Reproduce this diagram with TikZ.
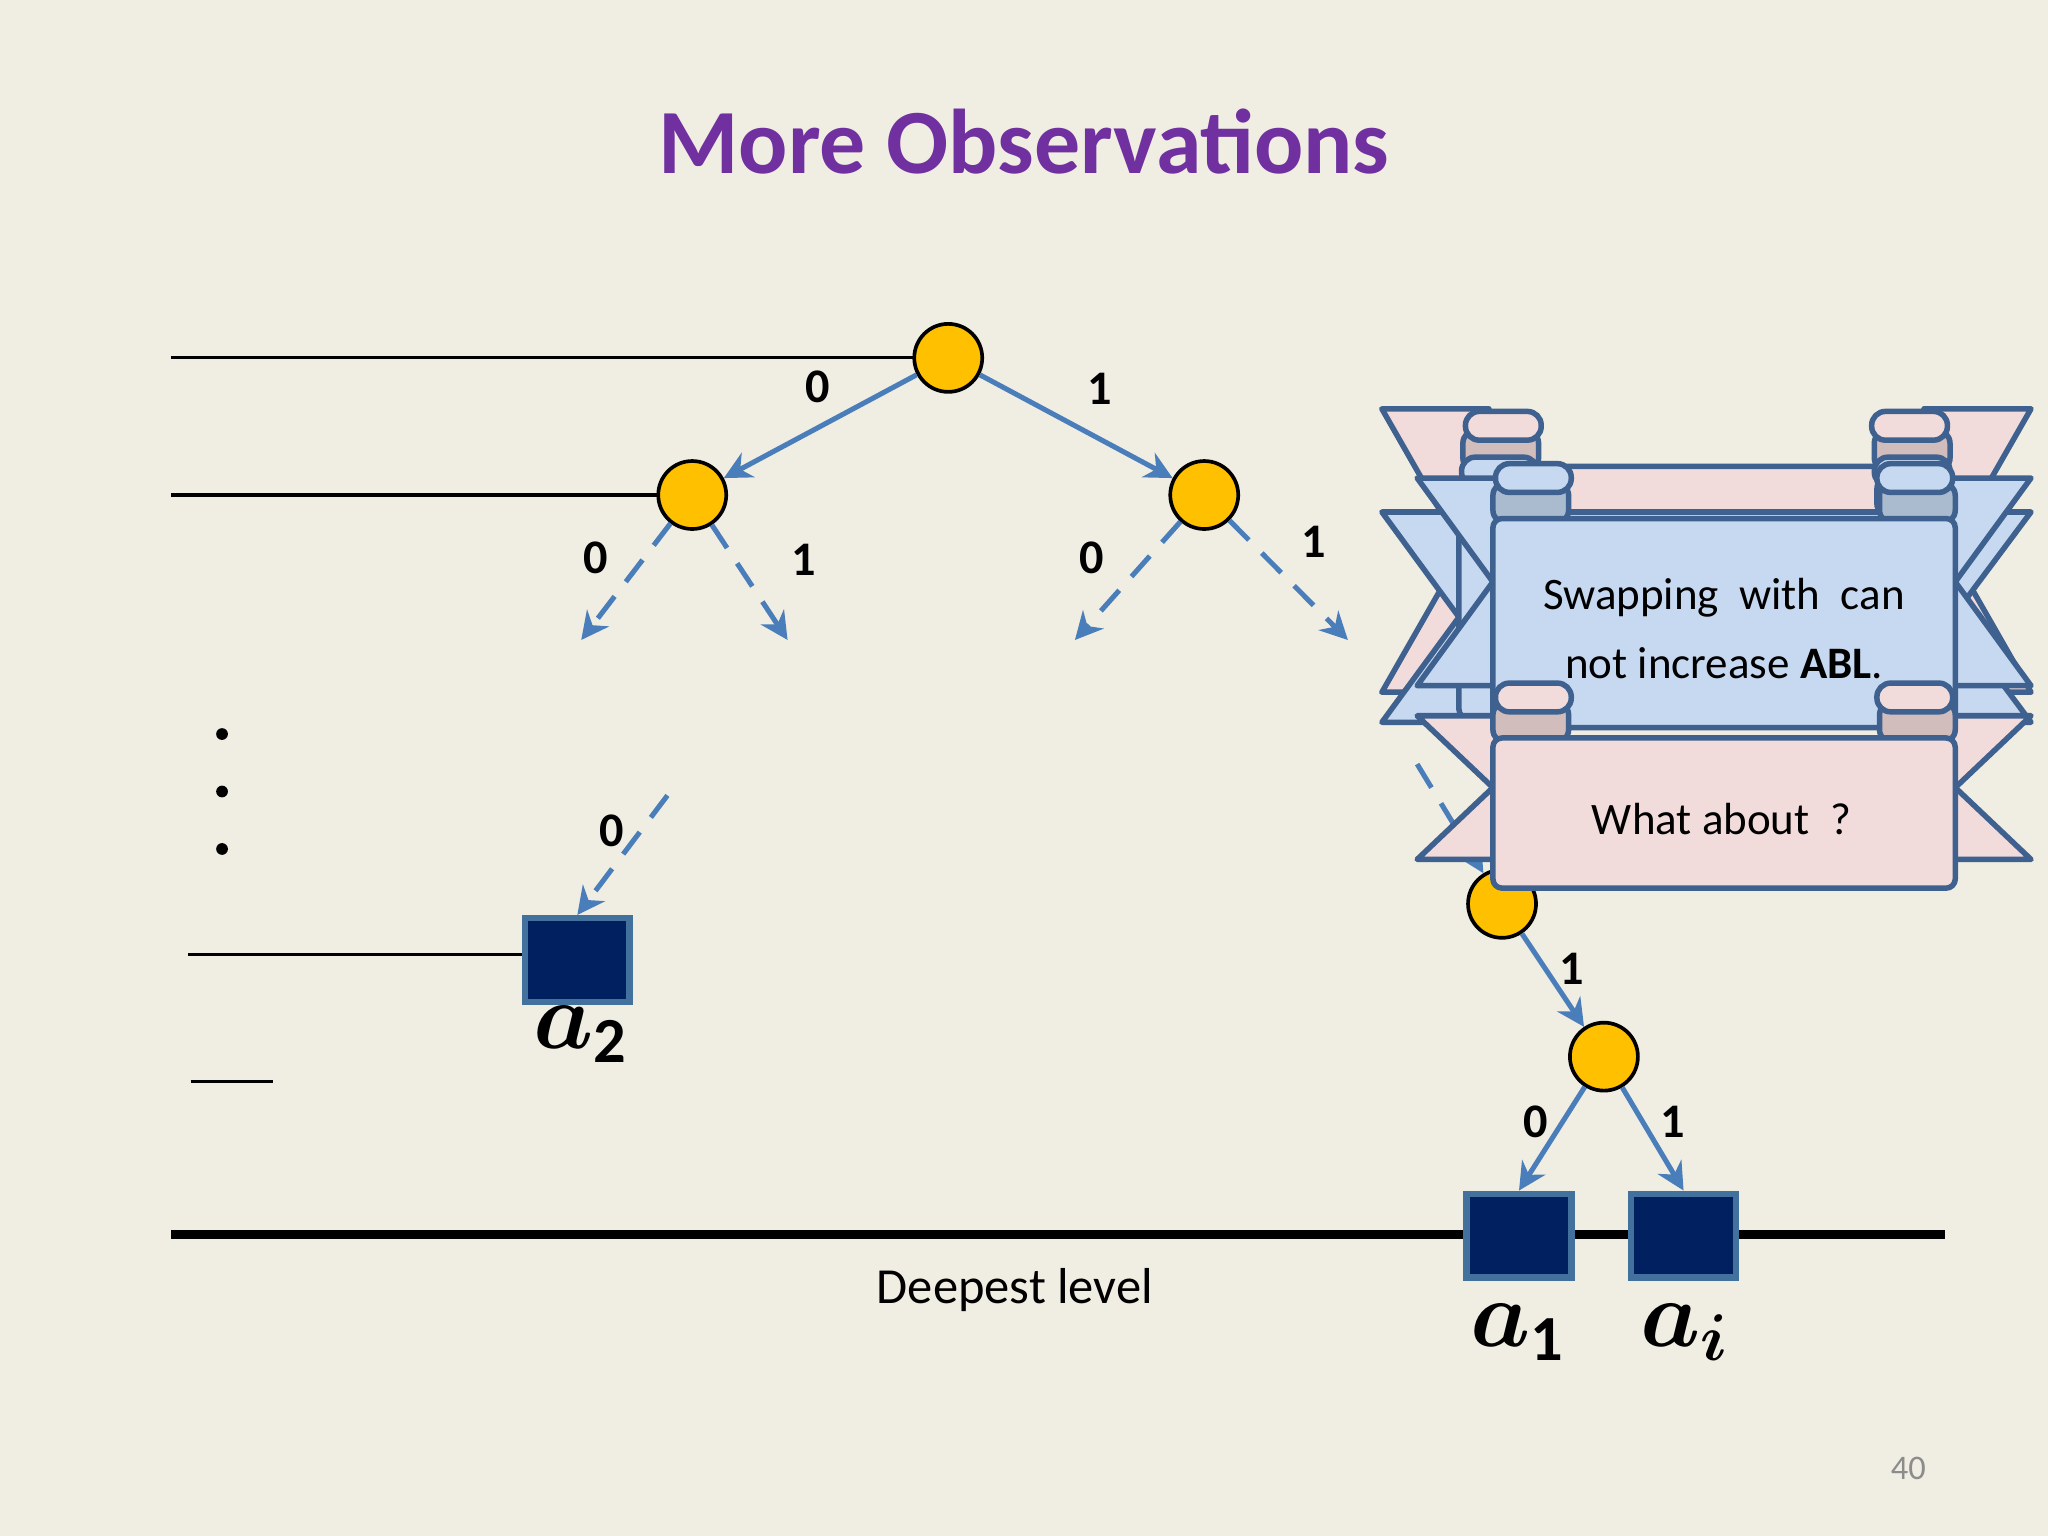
\documentclass[tikz,border=0pt]{standalone}
\usepackage{fontspec}
\usepackage{amsmath,bm}
\setmainfont{Carlito}
\usetikzlibrary{arrows.meta}
\definecolor{bg}{HTML}{F0EDE3}
\definecolor{ttl}{HTML}{7030A0}
\definecolor{arr}{HTML}{4A7EBB}
\definecolor{nodey}{HTML}{FFC000}
\definecolor{navy}{HTML}{002060}
\definecolor{sqb}{HTML}{41719C}
\definecolor{bnb}{HTML}{3F6190}
\definecolor{pk}{HTML}{F2DCDB}
\definecolor{pkd}{HTML}{C4AEAE}
\definecolor{bl}{HTML}{C6D9F1}
\definecolor{bld}{HTML}{A3B6CF}
\tikzset{
 tn/.style={circle,draw=black,fill=nodey,minimum size=14.8pt,inner sep=0,line width=0.8pt},
 leaf/.style={draw=sqb,fill=navy,minimum width=22.8pt,minimum height=18.2pt,inner sep=0,line width=1.4pt},
 edge/.style={draw=arr,line width=1.1pt,-{Stealth[length=6pt,width=6pt]}},
 dedge/.style={edge,dash pattern=on 6pt off 4pt},
 lbl/.style={font=\fontsize{10.5}{13}\selectfont\bfseries},
 alab/.style={font=\fontsize{20}{24}\selectfont},
 bnline/.style={draw=bnb,line width=1.2pt,line join=round}
}
\newcommand{\ribbon}[9]{% x1 x2 top bot outerL outerR wtop wbot fill/dark
 \def\fl{#9}%
 \pgfmathsetmacro{\mid}{(#7+#8)/2}
 \filldraw[bnline,fill=\fl] (#5,#7)--(#1+20,#7)--(#1+20,#8)--(#5,#8)--(#1,\mid)--cycle;
 \filldraw[bnline,fill=\fl] (#6,#7)--(#2-20,#7)--(#2-20,#8)--(#6,#8)--(#2,\mid)--cycle;
 \filldraw[bnline,fill=\fl!60!black!35!\fl,rounded corners=3pt] (#1,#3-28)rectangle(#1+58,#3+4);
 \filldraw[bnline,fill=\fl!60!black!35!\fl,rounded corners=3pt] (#2-58,#3-28)rectangle(#2,#3+4);
 \filldraw[bnline,fill=\fl,rounded corners=3pt] (#1+2,#3-42)rectangle(#1+60,#3-20);
 \filldraw[bnline,fill=\fl,rounded corners=3pt] (#2-60,#3-42)rectangle(#2-2,#3-20);
 \filldraw[bnline,fill=\fl,rounded corners=2pt] (#1,#3)--(#2,#3)--(#2,#4)--(#1,#4)--cycle;
}
\begin{document}
\begin{tikzpicture}[x=0.01cm,y=-0.01cm]
\fill[bg] (0,0) rectangle (1568,1176);
\useasboundingbox (0,0) rectangle (1568,1176);
\node[font=\fontsize{20}{24}\selectfont\bfseries,text=ttl] (title) at (784,108) {More Observations};
% level lines
\draw[line width=0.7pt] (131,274) -- (700,274);
\draw[line width=0.7pt] (131,379) -- (505,379);
\draw[line width=0.7pt] (144,731) -- (402,731);
\draw[line width=0.7pt] (146,828) -- (209,828);
\draw[line width=2pt] (131,945) -- (1489,945);
% tree nodes
\node[tn] (r) at (726,274) {};
\node[tn] (l) at (530,379) {};
\node[tn] (rt) at (922,379) {};
\node[tn] (d1) at (1150,692) {};
\node[tn] (d2) at (1228,809) {};
\node[leaf] (a2) at (442,735) {};
\node[leaf] (a1) at (1163,946) {};
\node[leaf] (ai) at (1289,946) {};
\coordinate (e1) at (445,490); \coordinate (e2) at (603,490);
\coordinate (e3) at (823,490); \coordinate (e4) at (1032,490);
\coordinate (s1) at (511,609); \coordinate (s2) at (1085,585);
\draw[edge] (r) -- (l);
\draw[edge] (r) -- (rt);
\draw[dedge] (l) -- (e1);
\draw[dedge] (l) -- (e2);
\draw[dedge] (rt) -- (e3);
\draw[dedge] (rt) -- (e4);
\draw[dedge] (s1) -- (a2.north);
\draw[dedge] (s2) -- (d1);
\draw[edge] (d1) -- (d2);
\draw[edge] (d2) -- (a1.north);
\draw[edge] (d2) -- (ai.north);
\node[lbl] (t1) at (626,296) {0};
\node[lbl] (t2) at (842,298) {1};
\node[lbl] (t3) at (456,427) {0};
\node[lbl] (t4) at (615,429) {1};
\node[lbl] (t5) at (836,427) {0};
\node[lbl] (t6) at (1006,415) {1};
\node[lbl] (t7) at (468,636) {0};
\node[lbl] (t8) at (1203,742) {1};
\node[lbl] (t9) at (1176,859) {0};
\node[lbl] (t10) at (1281,859) {1};
\foreach \yy in {562,606,650} \fill (170,\yy) circle (4.5);
\node[alab] (la2) at (445,792) {$\bm{a}_{\mathbf{2}}$};
\node[alab] (la1) at (1162,1020) {$\bm{a}_{\mathbf{1}}$};
\node[alab] (lai) at (1290,1020) {$\bm{a}_{\bm{i}}$};
\node[font=\fontsize{11}{14}\selectfont] (deep) at (777,988) {Deepest level};
\node[font=\fontsize{7.5}{10}\selectfont,text=black!45] (pg) at (1461,1124) {40};
% banners
\ribbon{1120}{1493}{357}{545}{1058}{1555}{313}{530}{pk}
\ribbon{1117}{1495}{392}{550}{1058}{1555}{392}{553}{bl}
\ribbon{1143}{1497}{397}{557}{1085}{1555}{366}{525}{bl}
\ribbon{1143}{1497}{565}{680}{1085}{1555}{548}{658}{pk}
\node[font=\fontsize{9.8}{15}\selectfont,align=center] (bt1) at (1320,481) {Swapping\ \ with\ \ can\\not increase \textbf{ABL}.};
\node[font=\fontsize{9.8}{12}\selectfont] (bt2) at (1318,627) {What about\ \ ?};
\end{tikzpicture}
\end{document}
